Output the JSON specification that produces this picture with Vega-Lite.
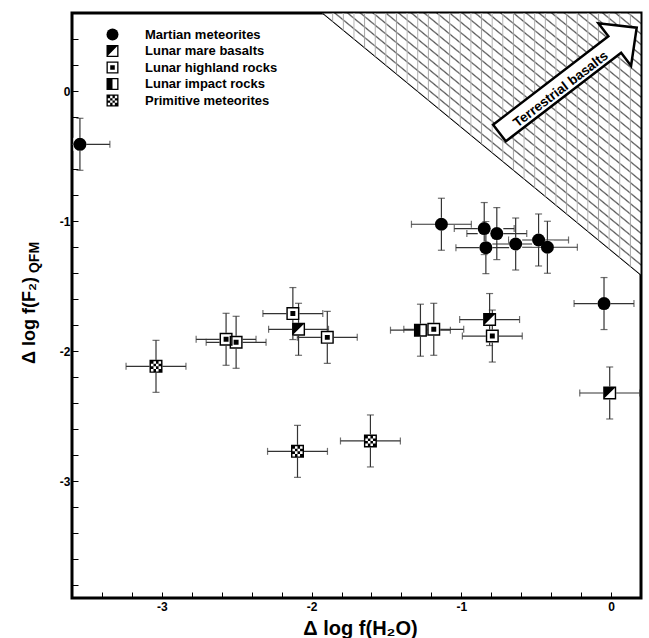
{
  "$schema": "https://vega.github.io/schema/vega-lite/v6.json",
  "width": 569,
  "height": 585,
  "autosize": {"type": "none"},
  "padding": {"left": 72, "top": 13, "right": 8, "bottom": 40},
  "background": "white",
  "config": {
    "font": "Liberation Sans",
    "view": {"stroke": "black", "strokeWidth": 3},
    "axis": {
      "domain": false,
      "grid": false,
      "ticks": true,
      "tickSize": -6,
      "tickColor": "black",
      "tickWidth": 1,
      "labelFont": "Liberation Sans",
      "labelFontWeight": "bold",
      "labelFontSize": 12,
      "labelColor": "black",
      "labelOverlap": false,
      "labelFlush": false,
      "titleFont": "Liberation Sans",
      "titleFontWeight": "bold",
      "titleColor": "black"
    }
  },
  "datasets": {
    "pts": [
      {"group": "Martian meteorites", "x": -3.547, "y": -0.41, "ex": 0.2, "ey": 0.2},
      {"group": "Martian meteorites", "x": -1.133, "y": -1.025, "ex": 0.2, "ey": 0.2},
      {"group": "Martian meteorites", "x": -0.847, "y": -1.058, "ex": 0.2, "ey": 0.2},
      {"group": "Martian meteorites", "x": -0.763, "y": -1.097, "ex": 0.2, "ey": 0.2},
      {"group": "Martian meteorites", "x": -0.836, "y": -1.205, "ex": 0.2, "ey": 0.2},
      {"group": "Martian meteorites", "x": -0.637, "y": -1.177, "ex": 0.2, "ey": 0.2},
      {"group": "Martian meteorites", "x": -0.484, "y": -1.146, "ex": 0.2, "ey": 0.2},
      {"group": "Martian meteorites", "x": -0.425, "y": -1.202, "ex": 0.2, "ey": 0.2},
      {"group": "Martian meteorites", "x": -0.047, "y": -1.635, "ex": 0.2, "ey": 0.2},
      {"group": "Lunar mare basalts", "x": -2.087, "y": -1.833, "ex": 0.2, "ey": 0.2},
      {"group": "Lunar mare basalts", "x": -0.811, "y": -1.758, "ex": 0.2, "ey": 0.2},
      {"group": "Lunar mare basalts", "x": -0.009, "y": -2.323, "ex": 0.2, "ey": 0.2},
      {"group": "Lunar highland rocks", "x": -2.571, "y": -1.91, "ex": 0.2, "ey": 0.2},
      {"group": "Lunar highland rocks", "x": -2.504, "y": -1.933, "ex": 0.2, "ey": 0.2},
      {"group": "Lunar highland rocks", "x": -2.125, "y": -1.712, "ex": 0.2, "ey": 0.2},
      {"group": "Lunar highland rocks", "x": -1.895, "y": -1.895, "ex": 0.2, "ey": 0.2},
      {"group": "Lunar highland rocks", "x": -1.184, "y": -1.833, "ex": 0.2, "ey": 0.2},
      {"group": "Lunar highland rocks", "x": -0.793, "y": -1.885, "ex": 0.2, "ey": 0.2},
      {"group": "Lunar impact rocks", "x": -1.273, "y": -1.84, "ex": 0.2, "ey": 0.2},
      {"group": "Primitive meteorites", "x": -3.039, "y": -2.118, "ex": 0.2, "ey": 0.2},
      {"group": "Primitive meteorites", "x": -2.094, "y": -2.772, "ex": 0.2, "ey": 0.2},
      {"group": "Primitive meteorites", "x": -1.607, "y": -2.692, "ex": 0.2, "ey": 0.2}
    ],
    "hatch": [
      {"x": -1.93, "y": 0.6, "y2": 0.6},
      {"x": 0.2, "y": -1.418, "y2": 0.6}
    ],
    "arrow": [
      {"x": -0.287, "y": 0.082}
    ],
    "textpos": [
      {"x": -0.335, "y": 0.012, "label": "Terrestrial basalts"}
    ]
  },
  "resolve": {"axis": {"y": "independent"}},
  "layer": [
    {
      "data": {"name": "hatch"},
      "mark": {"type": "area", "stroke": "black", "strokeWidth": 1,
        "fill": {"gradient": "linear", "x1": 0, "y1": 1, "x2": 1, "y2": 0, "stops": [
          {"offset": 0, "color": "#555555"}, {"offset": 0.003, "color": "#ffffff"}, {"offset": 0.017, "color": "#ffffff"},
          {"offset": 0.02, "color": "#555555"}, {"offset": 0.023, "color": "#ffffff"}, {"offset": 0.037, "color": "#ffffff"},
          {"offset": 0.04, "color": "#555555"}, {"offset": 0.043, "color": "#ffffff"}, {"offset": 0.057, "color": "#ffffff"},
          {"offset": 0.06, "color": "#555555"}, {"offset": 0.063, "color": "#ffffff"}, {"offset": 0.077, "color": "#ffffff"},
          {"offset": 0.08, "color": "#555555"}, {"offset": 0.083, "color": "#ffffff"}, {"offset": 0.097, "color": "#ffffff"},
          {"offset": 0.1, "color": "#555555"}, {"offset": 0.103, "color": "#ffffff"}, {"offset": 0.117, "color": "#ffffff"},
          {"offset": 0.12, "color": "#555555"}, {"offset": 0.123, "color": "#ffffff"}, {"offset": 0.137, "color": "#ffffff"},
          {"offset": 0.14, "color": "#555555"}, {"offset": 0.143, "color": "#ffffff"}, {"offset": 0.157, "color": "#ffffff"},
          {"offset": 0.16, "color": "#555555"}, {"offset": 0.163, "color": "#ffffff"}, {"offset": 0.177, "color": "#ffffff"},
          {"offset": 0.18, "color": "#555555"}, {"offset": 0.183, "color": "#ffffff"}, {"offset": 0.197, "color": "#ffffff"},
          {"offset": 0.2, "color": "#555555"}, {"offset": 0.203, "color": "#ffffff"}, {"offset": 0.217, "color": "#ffffff"},
          {"offset": 0.22, "color": "#555555"}, {"offset": 0.223, "color": "#ffffff"}, {"offset": 0.237, "color": "#ffffff"},
          {"offset": 0.24, "color": "#555555"}, {"offset": 0.243, "color": "#ffffff"}, {"offset": 0.257, "color": "#ffffff"},
          {"offset": 0.26, "color": "#555555"}, {"offset": 0.263, "color": "#ffffff"}, {"offset": 0.277, "color": "#ffffff"},
          {"offset": 0.28, "color": "#555555"}, {"offset": 0.283, "color": "#ffffff"}, {"offset": 0.297, "color": "#ffffff"},
          {"offset": 0.3, "color": "#555555"}, {"offset": 0.303, "color": "#ffffff"}, {"offset": 0.317, "color": "#ffffff"},
          {"offset": 0.32, "color": "#555555"}, {"offset": 0.323, "color": "#ffffff"}, {"offset": 0.337, "color": "#ffffff"},
          {"offset": 0.34, "color": "#555555"}, {"offset": 0.343, "color": "#ffffff"}, {"offset": 0.357, "color": "#ffffff"},
          {"offset": 0.36, "color": "#555555"}, {"offset": 0.363, "color": "#ffffff"}, {"offset": 0.377, "color": "#ffffff"},
          {"offset": 0.38, "color": "#555555"}, {"offset": 0.383, "color": "#ffffff"}, {"offset": 0.397, "color": "#ffffff"},
          {"offset": 0.4, "color": "#555555"}, {"offset": 0.403, "color": "#ffffff"}, {"offset": 0.417, "color": "#ffffff"},
          {"offset": 0.42, "color": "#555555"}, {"offset": 0.423, "color": "#ffffff"}, {"offset": 0.437, "color": "#ffffff"},
          {"offset": 0.44, "color": "#555555"}, {"offset": 0.443, "color": "#ffffff"}, {"offset": 0.457, "color": "#ffffff"},
          {"offset": 0.46, "color": "#555555"}, {"offset": 0.463, "color": "#ffffff"}, {"offset": 0.477, "color": "#ffffff"},
          {"offset": 0.48, "color": "#555555"}, {"offset": 0.483, "color": "#ffffff"}, {"offset": 0.497, "color": "#ffffff"},
          {"offset": 0.5, "color": "#555555"}, {"offset": 0.503, "color": "#ffffff"}, {"offset": 0.517, "color": "#ffffff"},
          {"offset": 0.52, "color": "#555555"}, {"offset": 0.523, "color": "#ffffff"}, {"offset": 0.537, "color": "#ffffff"},
          {"offset": 0.54, "color": "#555555"}, {"offset": 0.543, "color": "#ffffff"}, {"offset": 0.557, "color": "#ffffff"},
          {"offset": 0.56, "color": "#555555"}, {"offset": 0.563, "color": "#ffffff"}, {"offset": 0.577, "color": "#ffffff"},
          {"offset": 0.58, "color": "#555555"}, {"offset": 0.583, "color": "#ffffff"}, {"offset": 0.597, "color": "#ffffff"},
          {"offset": 0.6, "color": "#555555"}, {"offset": 0.603, "color": "#ffffff"}, {"offset": 0.617, "color": "#ffffff"},
          {"offset": 0.62, "color": "#555555"}, {"offset": 0.623, "color": "#ffffff"}, {"offset": 0.637, "color": "#ffffff"},
          {"offset": 0.64, "color": "#555555"}, {"offset": 0.643, "color": "#ffffff"}, {"offset": 0.657, "color": "#ffffff"},
          {"offset": 0.66, "color": "#555555"}, {"offset": 0.663, "color": "#ffffff"}, {"offset": 0.677, "color": "#ffffff"},
          {"offset": 0.68, "color": "#555555"}, {"offset": 0.683, "color": "#ffffff"}, {"offset": 0.697, "color": "#ffffff"},
          {"offset": 0.7, "color": "#555555"}, {"offset": 0.703, "color": "#ffffff"}, {"offset": 0.717, "color": "#ffffff"},
          {"offset": 0.72, "color": "#555555"}, {"offset": 0.723, "color": "#ffffff"}, {"offset": 0.737, "color": "#ffffff"},
          {"offset": 0.74, "color": "#555555"}, {"offset": 0.743, "color": "#ffffff"}, {"offset": 0.757, "color": "#ffffff"},
          {"offset": 0.76, "color": "#555555"}, {"offset": 0.763, "color": "#ffffff"}, {"offset": 0.777, "color": "#ffffff"},
          {"offset": 0.78, "color": "#555555"}, {"offset": 0.783, "color": "#ffffff"}, {"offset": 0.797, "color": "#ffffff"},
          {"offset": 0.8, "color": "#555555"}, {"offset": 0.803, "color": "#ffffff"}, {"offset": 0.817, "color": "#ffffff"},
          {"offset": 0.82, "color": "#555555"}, {"offset": 0.823, "color": "#ffffff"}, {"offset": 0.837, "color": "#ffffff"},
          {"offset": 0.84, "color": "#555555"}, {"offset": 0.843, "color": "#ffffff"}, {"offset": 0.857, "color": "#ffffff"},
          {"offset": 0.86, "color": "#555555"}, {"offset": 0.863, "color": "#ffffff"}, {"offset": 0.877, "color": "#ffffff"},
          {"offset": 0.88, "color": "#555555"}, {"offset": 0.883, "color": "#ffffff"}, {"offset": 0.897, "color": "#ffffff"},
          {"offset": 0.9, "color": "#555555"}, {"offset": 0.903, "color": "#ffffff"}, {"offset": 0.917, "color": "#ffffff"},
          {"offset": 0.92, "color": "#555555"}, {"offset": 0.923, "color": "#ffffff"}, {"offset": 0.937, "color": "#ffffff"},
          {"offset": 0.94, "color": "#555555"}, {"offset": 0.943, "color": "#ffffff"}, {"offset": 0.957, "color": "#ffffff"},
          {"offset": 0.96, "color": "#555555"}, {"offset": 0.963, "color": "#ffffff"}, {"offset": 0.977, "color": "#ffffff"},
          {"offset": 0.98, "color": "#555555"}, {"offset": 0.983, "color": "#ffffff"}, {"offset": 0.997, "color": "#ffffff"},
          {"offset": 1, "color": "#555555"}
        ]}},
      "encoding": {
        "x": {"field": "x", "type": "quantitative", "scale": {"domain": [-3.6, 0.2], "nice": false, "zero": false},
          "axis": {"title": "Δ log f(H₂O)", "values": [-3.6, -3.4, -3.2, -3, -2.8, -2.6, -2.4, -2.2, -2, -1.8, -1.6, -1.4, -1.2, -1, -0.8, -0.6, -0.4, -0.2, 0, 0.2],
            "labelExpr": "abs(datum.value - round(datum.value)) < 0.01 ? '' + round(datum.value) : ''",
            "labelOverlap": false, "titleFontSize": 20, "titleX": 288, "titleY": 36, "titleBaseline": "alphabetic", "labelPadding": 9}},
        "y": {"field": "y", "type": "quantitative", "scale": {"domain": [-3.9, 0.6], "nice": false, "zero": false},
          "axis": {"title": "Δ log f(F₂)", "values": [-3.8, -3.6, -3.4, -3.2, -3, -2.8, -2.6, -2.4, -2.2, -2, -1.8, -1.6, -1.4, -1.2, -1, -0.8, -0.6, -0.4, -0.2, 0, 0.2, 0.4, 0.6],
            "labelExpr": "abs(datum.value - round(datum.value)) < 0.01 ? '' + round(datum.value) : ''",
            "labelOverlap": false, "orient": "left", "titleFontSize": 18, "titleAngle": -90, "titleX": -38, "titleY": 307, "titleBaseline": "alphabetic", "titleAlign": "center", "labelPadding": 8}},
        "y2": {"field": "y2"}
      }
    },
    {
      "data": {"name": "hatch"},
      "mark": {"type": "area", "strokeWidth": 0,
        "fill": {"gradient": "linear", "x1": 0, "y1": 0, "x2": 1, "y2": 0, "stops": [
          {"offset": 0, "color": "rgba(150,150,150,0.9)"}, {"offset": 0.004, "color": "rgba(255,255,255,0)"}, {"offset": 0.0293, "color": "rgba(255,255,255,0)"},
          {"offset": 0.0333, "color": "rgba(150,150,150,0.9)"}, {"offset": 0.0373, "color": "rgba(255,255,255,0)"}, {"offset": 0.0627, "color": "rgba(255,255,255,0)"},
          {"offset": 0.0667, "color": "rgba(150,150,150,0.9)"}, {"offset": 0.0707, "color": "rgba(255,255,255,0)"}, {"offset": 0.096, "color": "rgba(255,255,255,0)"},
          {"offset": 0.1, "color": "rgba(150,150,150,0.9)"}, {"offset": 0.104, "color": "rgba(255,255,255,0)"}, {"offset": 0.1293, "color": "rgba(255,255,255,0)"},
          {"offset": 0.1333, "color": "rgba(150,150,150,0.9)"}, {"offset": 0.1373, "color": "rgba(255,255,255,0)"}, {"offset": 0.1627, "color": "rgba(255,255,255,0)"},
          {"offset": 0.1667, "color": "rgba(150,150,150,0.9)"}, {"offset": 0.1707, "color": "rgba(255,255,255,0)"}, {"offset": 0.196, "color": "rgba(255,255,255,0)"},
          {"offset": 0.2, "color": "rgba(150,150,150,0.9)"}, {"offset": 0.204, "color": "rgba(255,255,255,0)"}, {"offset": 0.2293, "color": "rgba(255,255,255,0)"},
          {"offset": 0.2333, "color": "rgba(150,150,150,0.9)"}, {"offset": 0.2373, "color": "rgba(255,255,255,0)"}, {"offset": 0.2627, "color": "rgba(255,255,255,0)"},
          {"offset": 0.2667, "color": "rgba(150,150,150,0.9)"}, {"offset": 0.2707, "color": "rgba(255,255,255,0)"}, {"offset": 0.296, "color": "rgba(255,255,255,0)"},
          {"offset": 0.3, "color": "rgba(150,150,150,0.9)"}, {"offset": 0.304, "color": "rgba(255,255,255,0)"}, {"offset": 0.3293, "color": "rgba(255,255,255,0)"},
          {"offset": 0.3333, "color": "rgba(150,150,150,0.9)"}, {"offset": 0.3373, "color": "rgba(255,255,255,0)"}, {"offset": 0.3627, "color": "rgba(255,255,255,0)"},
          {"offset": 0.3667, "color": "rgba(150,150,150,0.9)"}, {"offset": 0.3707, "color": "rgba(255,255,255,0)"}, {"offset": 0.396, "color": "rgba(255,255,255,0)"},
          {"offset": 0.4, "color": "rgba(150,150,150,0.9)"}, {"offset": 0.404, "color": "rgba(255,255,255,0)"}, {"offset": 0.4293, "color": "rgba(255,255,255,0)"},
          {"offset": 0.4333, "color": "rgba(150,150,150,0.9)"}, {"offset": 0.4373, "color": "rgba(255,255,255,0)"}, {"offset": 0.4627, "color": "rgba(255,255,255,0)"},
          {"offset": 0.4667, "color": "rgba(150,150,150,0.9)"}, {"offset": 0.4707, "color": "rgba(255,255,255,0)"}, {"offset": 0.496, "color": "rgba(255,255,255,0)"},
          {"offset": 0.5, "color": "rgba(150,150,150,0.9)"}, {"offset": 0.504, "color": "rgba(255,255,255,0)"}, {"offset": 0.5293, "color": "rgba(255,255,255,0)"},
          {"offset": 0.5333, "color": "rgba(150,150,150,0.9)"}, {"offset": 0.5373, "color": "rgba(255,255,255,0)"}, {"offset": 0.5627, "color": "rgba(255,255,255,0)"},
          {"offset": 0.5667, "color": "rgba(150,150,150,0.9)"}, {"offset": 0.5707, "color": "rgba(255,255,255,0)"}, {"offset": 0.596, "color": "rgba(255,255,255,0)"},
          {"offset": 0.6, "color": "rgba(150,150,150,0.9)"}, {"offset": 0.604, "color": "rgba(255,255,255,0)"}, {"offset": 0.6293, "color": "rgba(255,255,255,0)"},
          {"offset": 0.6333, "color": "rgba(150,150,150,0.9)"}, {"offset": 0.6373, "color": "rgba(255,255,255,0)"}, {"offset": 0.6627, "color": "rgba(255,255,255,0)"},
          {"offset": 0.6667, "color": "rgba(150,150,150,0.9)"}, {"offset": 0.6707, "color": "rgba(255,255,255,0)"}, {"offset": 0.696, "color": "rgba(255,255,255,0)"},
          {"offset": 0.7, "color": "rgba(150,150,150,0.9)"}, {"offset": 0.704, "color": "rgba(255,255,255,0)"}, {"offset": 0.7293, "color": "rgba(255,255,255,0)"},
          {"offset": 0.7333, "color": "rgba(150,150,150,0.9)"}, {"offset": 0.7373, "color": "rgba(255,255,255,0)"}, {"offset": 0.7627, "color": "rgba(255,255,255,0)"},
          {"offset": 0.7667, "color": "rgba(150,150,150,0.9)"}, {"offset": 0.7707, "color": "rgba(255,255,255,0)"}, {"offset": 0.796, "color": "rgba(255,255,255,0)"},
          {"offset": 0.8, "color": "rgba(150,150,150,0.9)"}, {"offset": 0.804, "color": "rgba(255,255,255,0)"}, {"offset": 0.8293, "color": "rgba(255,255,255,0)"},
          {"offset": 0.8333, "color": "rgba(150,150,150,0.9)"}, {"offset": 0.8373, "color": "rgba(255,255,255,0)"}, {"offset": 0.8627, "color": "rgba(255,255,255,0)"},
          {"offset": 0.8667, "color": "rgba(150,150,150,0.9)"}, {"offset": 0.8707, "color": "rgba(255,255,255,0)"}, {"offset": 0.896, "color": "rgba(255,255,255,0)"},
          {"offset": 0.9, "color": "rgba(150,150,150,0.9)"}, {"offset": 0.904, "color": "rgba(255,255,255,0)"}, {"offset": 0.9293, "color": "rgba(255,255,255,0)"},
          {"offset": 0.9333, "color": "rgba(150,150,150,0.9)"}, {"offset": 0.9373, "color": "rgba(255,255,255,0)"}, {"offset": 0.9627, "color": "rgba(255,255,255,0)"},
          {"offset": 0.9667, "color": "rgba(150,150,150,0.9)"}, {"offset": 0.9707, "color": "rgba(255,255,255,0)"}, {"offset": 1, "color": "rgba(255,255,255,0)"}
        ]}},
      "encoding": {
        "x": {"field": "x", "type": "quantitative",
          "axis": {"title": "Δ log f(H₂O)", "values": [-3.6, -3.4, -3.2, -3, -2.8, -2.6, -2.4, -2.2, -2, -1.8, -1.6, -1.4, -1.2, -1, -0.8, -0.6, -0.4, -0.2, 0, 0.2],
            "labelExpr": "abs(datum.value - round(datum.value)) < 0.01 ? '' + round(datum.value) : ''",
            "labelOverlap": false, "titleFontSize": 20, "titleX": 288, "titleY": 36, "titleBaseline": "alphabetic", "labelPadding": 9}},
        "y": {"field": "y", "type": "quantitative", "axis": null},
        "y2": {"field": "y2"}
      }
    },
    {
      "data": {"name": "arrow"},
      "mark": {"type": "point", "shape": "M -1 -0.121 L 0.68 -0.121 L 0.68 -0.31 L 1 0 L 0.68 0.31 L 0.68 0.121 L -1 0.121 Z", "size": 29929, "angle": -37.5, "filled": true, "fill": "white", "stroke": "black", "strokeWidth": 2.5, "opacity": 1},
      "encoding": {
        "x": {"field": "x", "type": "quantitative",
          "axis": {"title": "Δ log f(H₂O)", "values": [-3.6, -3.4, -3.2, -3, -2.8, -2.6, -2.4, -2.2, -2, -1.8, -1.6, -1.4, -1.2, -1, -0.8, -0.6, -0.4, -0.2, 0, 0.2],
            "labelExpr": "abs(datum.value - round(datum.value)) < 0.01 ? '' + round(datum.value) : ''",
            "labelOverlap": false, "titleFontSize": 20, "titleX": 288, "titleY": 36, "titleBaseline": "alphabetic", "labelPadding": 9}},
        "y": {"field": "y", "type": "quantitative", "axis": {"title": "QFM", "orient": "left", "ticks": false, "labels": false, "domain": false, "titleFontSize": 14, "titleAngle": -90, "titleX": -34, "titleY": 244, "titleBaseline": "alphabetic", "titleAlign": "center"}}
      }
    },
    {
      "data": {"name": "textpos"},
      "mark": {"type": "text", "angle": -37.5, "fontSize": 13.5, "fontWeight": "bold", "font": "Liberation Sans", "color": "black", "align": "center", "baseline": "middle"},
      "encoding": {
        "x": {"field": "x", "type": "quantitative",
          "axis": {"title": "Δ log f(H₂O)", "values": [-3.6, -3.4, -3.2, -3, -2.8, -2.6, -2.4, -2.2, -2, -1.8, -1.6, -1.4, -1.2, -1, -0.8, -0.6, -0.4, -0.2, 0, 0.2],
            "labelExpr": "abs(datum.value - round(datum.value)) < 0.01 ? '' + round(datum.value) : ''",
            "labelOverlap": false, "titleFontSize": 20, "titleX": 288, "titleY": 36, "titleBaseline": "alphabetic", "labelPadding": 9}},
        "y": {"field": "y", "type": "quantitative", "axis": null},
        "text": {"field": "label"}
      }
    },
    {
      "data": {"name": "pts"},
      "mark": {"type": "errorbar", "ticks": true, "size": 7, "thickness": 1.2, "color": "#333", "clip": true},
      "encoding": {
        "x": {"field": "x", "type": "quantitative",
          "axis": {"title": "Δ log f(H₂O)", "values": [-3.6, -3.4, -3.2, -3, -2.8, -2.6, -2.4, -2.2, -2, -1.8, -1.6, -1.4, -1.2, -1, -0.8, -0.6, -0.4, -0.2, 0, 0.2],
            "labelExpr": "abs(datum.value - round(datum.value)) < 0.01 ? '' + round(datum.value) : ''",
            "labelOverlap": false, "titleFontSize": 20, "titleX": 288, "titleY": 36, "titleBaseline": "alphabetic", "labelPadding": 9}},
        "xError": {"field": "ex"},
        "y": {"field": "y", "type": "quantitative", "axis": null}
      }
    },
    {
      "data": {"name": "pts"},
      "mark": {"type": "errorbar", "ticks": true, "size": 7, "thickness": 1.2, "color": "#333", "clip": true},
      "encoding": {
        "y": {"field": "y", "type": "quantitative", "axis": null},
        "yError": {"field": "ey"},
        "x": {"field": "x", "type": "quantitative",
          "axis": {"title": "Δ log f(H₂O)", "values": [-3.6, -3.4, -3.2, -3, -2.8, -2.6, -2.4, -2.2, -2, -1.8, -1.6, -1.4, -1.2, -1, -0.8, -0.6, -0.4, -0.2, 0, 0.2],
            "labelExpr": "abs(datum.value - round(datum.value)) < 0.01 ? '' + round(datum.value) : ''",
            "labelOverlap": false, "titleFontSize": 20, "titleX": 288, "titleY": 36, "titleBaseline": "alphabetic", "labelPadding": 9}}
      }
    },
    {
      "data": {"name": "pts"},
      "mark": {"type": "point", "shape": "square", "size": 169, "filled": true, "color": "white", "opacity": 1},
      "encoding": {
        "x": {"field": "x", "type": "quantitative",
          "axis": {"title": "Δ log f(H₂O)", "values": [-3.6, -3.4, -3.2, -3, -2.8, -2.6, -2.4, -2.2, -2, -1.8, -1.6, -1.4, -1.2, -1, -0.8, -0.6, -0.4, -0.2, 0, 0.2],
            "labelExpr": "abs(datum.value - round(datum.value)) < 0.01 ? '' + round(datum.value) : ''",
            "labelOverlap": false, "titleFontSize": 20, "titleX": 288, "titleY": 36, "titleBaseline": "alphabetic", "labelPadding": 9}},
        "y": {"field": "y", "type": "quantitative", "axis": null}
      }
    },
    {
      "data": {"name": "pts"},
      "mark": {"type": "point", "size": 169, "filled": true, "color": "black", "opacity": 1, "strokeWidth": 0},
      "encoding": {
        "x": {"field": "x", "type": "quantitative",
          "axis": {"title": "Δ log f(H₂O)", "values": [-3.6, -3.4, -3.2, -3, -2.8, -2.6, -2.4, -2.2, -2, -1.8, -1.6, -1.4, -1.2, -1, -0.8, -0.6, -0.4, -0.2, 0, 0.2],
            "labelExpr": "abs(datum.value - round(datum.value)) < 0.01 ? '' + round(datum.value) : ''",
            "labelOverlap": false, "titleFontSize": 20, "titleX": 288, "titleY": 36, "titleBaseline": "alphabetic", "labelPadding": 9}},
        "y": {"field": "y", "type": "quantitative", "axis": null},
        "shape": {"field": "group", "type": "nominal",
          "scale": {"domain": ["Martian meteorites", "Lunar mare basalts", "Lunar highland rocks", "Lunar impact rocks", "Primitive meteorites"],
            "range": [
              "circle",
              "M -1 -1 L 1 -1 L 1 1 L -1 1 Z M -0.78 -0.78 L -0.78 0.78 L 0.78 0.78 L 0.78 -0.78 Z M -0.78 -0.78 L 0.78 -0.78 L -0.78 0.78 Z",
              "M -1 -1 L 1 -1 L 1 1 L -1 1 Z M -0.78 -0.78 L -0.78 0.78 L 0.78 0.78 L 0.78 -0.78 Z M -0.38 -0.38 L 0.38 -0.38 L 0.38 0.38 L -0.38 0.38 Z",
              "M -1 -1 L 1 -1 L 1 1 L -1 1 Z M -0.78 -0.78 L -0.78 0.78 L 0.78 0.78 L 0.78 -0.78 Z M -0.78 -0.78 L 0 -0.78 L 0 0.78 L -0.78 0.78 Z",
              "M -1 -1 L 1 -1 L 1 1 L -1 1 Z M -0.78 -0.78 L -0.78 0.78 L 0.78 0.78 L 0.78 -0.78 Z M -0.78 -0.78 L -0.39 -0.78 L -0.39 -0.39 L -0.78 -0.39 Z M 0 -0.78 L 0.39 -0.78 L 0.39 -0.39 L 0 -0.39 Z M -0.39 -0.39 L 0 -0.39 L 0 0 L -0.39 0 Z M 0.39 -0.39 L 0.78 -0.39 L 0.78 0 L 0.39 0 Z M -0.78 0 L -0.39 0 L -0.39 0.39 L -0.78 0.39 Z M 0 0 L 0.39 0 L 0.39 0.39 L 0 0.39 Z M -0.39 0.39 L 0 0.39 L 0 0.78 L -0.39 0.78 Z M 0.39 0.39 L 0.78 0.39 L 0.78 0.78 L 0.39 0.78 Z"
            ]},
          "legend": {"title": null, "orient": "none", "legendX": 34, "legendY": 15, "padding": 0, "symbolSize": 144, "symbolFillColor": "black", "symbolStrokeWidth": 0, "symbolOpacity": 1,
            "labelFont": "Liberation Sans", "labelFontWeight": "bold", "labelFontSize": 13, "labelColor": "black", "labelOffset": 26, "rowPadding": 2.5, "labelLimit": 300}}
      }
    }
  ]
}
